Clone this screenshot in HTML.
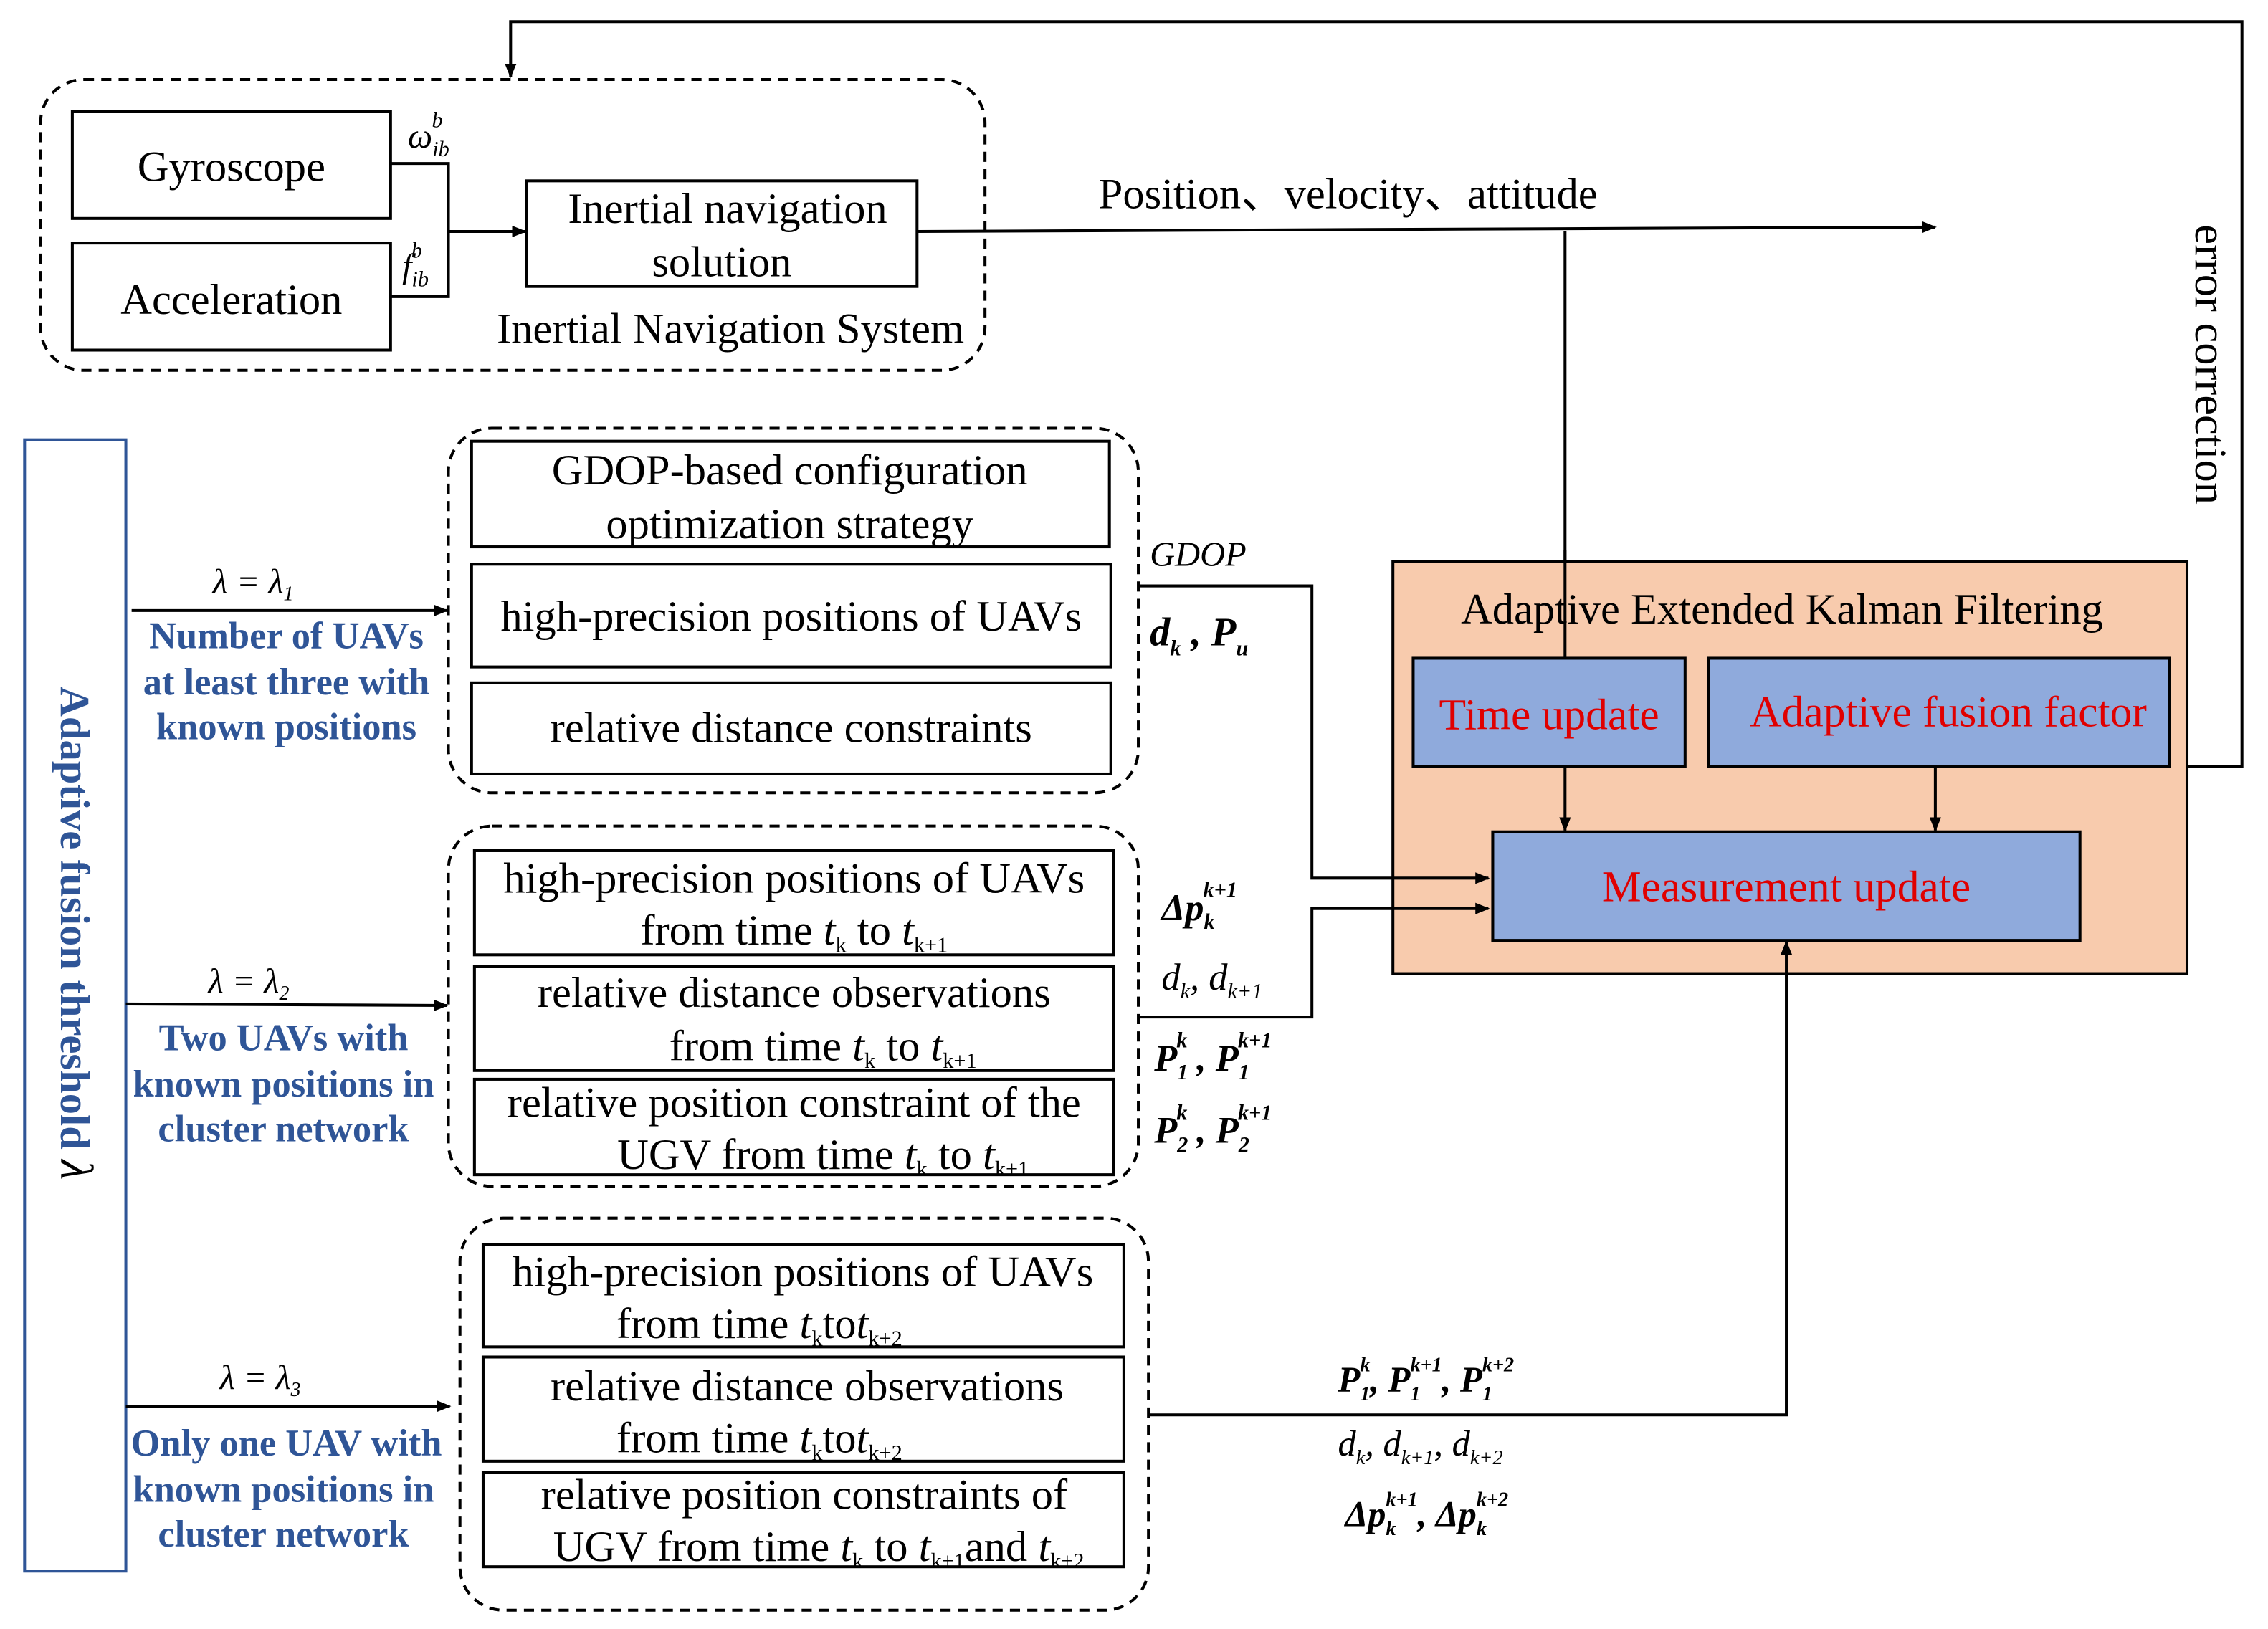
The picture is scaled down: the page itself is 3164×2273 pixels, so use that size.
<!DOCTYPE html>
<html><head><meta charset="utf-8"><style>
html,body{margin:0;padding:0;background:#fff;}
svg{display:block;}
text{font-family:"Liberation Serif",serif;}
.b{fill:#fff;stroke:#000;stroke-width:2;}
.d{fill:none;stroke:#000;stroke-width:2;stroke-dasharray:7,5;}
.l{fill:none;stroke:#000;stroke-width:2;}
.t{font-size:30px;text-anchor:middle;}
.bl{font-size:26px;font-weight:bold;fill:#2f5597;text-anchor:middle;}
.r{font-size:30.5px;fill:#e00000;text-anchor:middle;}
.i{font-style:italic;font-size:24px;}
</style></head><body>
<svg width="3164" height="2273" viewBox="0 0 1568 1126" preserveAspectRatio="none" xmlns="http://www.w3.org/2000/svg">
<defs><marker id="a" markerWidth="10" markerHeight="8" refX="9" refY="4" orient="auto" markerUnits="userSpaceOnUse"><path d="M0,0 L10,4 L0,8 z" fill="#000"/></marker></defs>

<polyline class="l" points="1512,530 1550,530 1550,15 353,15 353,53" marker-end="url(#a)"/>
<text x="1518" y="252" class="t" transform="rotate(90 1518 252)" style="font-size:31px">error correction</text>

<rect class="d" x="28" y="55" width="653" height="201" rx="30"/>
<rect class="b" x="50" y="77" width="220" height="74"/>
<text x="160" y="125" class="t">Gyroscope</text>
<rect class="b" x="50" y="168" width="220" height="74"/>
<text x="160" y="217" class="t">Acceleration</text>
<polyline class="l" points="270,113 310,113 310,205 270,205"/>
<line class="l" x1="310" y1="160" x2="363" y2="160" marker-end="url(#a)"/>
<text x="282" y="102" class="i">ω<tspan font-size="15" dy="6">ib</tspan><tspan font-size="15" dx="-12" dy="-20">b</tspan></text>
<text x="278" y="192" class="i">f<tspan font-size="15" dy="6">ib</tspan><tspan font-size="15" dx="-12" dy="-20">b</tspan></text>
<rect class="b" x="364" y="125" width="270" height="73"/>
<text x="503" y="154" class="t">Inertial navigation</text>
<text x="499" y="191" class="t">solution</text>
<text x="505" y="237" class="t">Inertial Navigation System</text>
<line class="l" x1="634" y1="160" x2="1338" y2="157" marker-end="url(#a)"/>
<text x="932" y="144" class="t">Position、velocity、attitude</text>
<line class="l" x1="1082" y1="160" x2="1082" y2="455" marker-end="url(#a)"/>

<rect x="17" y="304" width="70" height="782" fill="#fff" stroke="#2f5597" stroke-width="2"/>
<text x="42" y="645" transform="rotate(90 42 645)" style="font-size:29px;font-weight:bold;fill:#2f5597;text-anchor:middle">Adaptive fusion threshold <tspan font-style="italic" fill="#000" font-weight="normal" font-size="32">λ</tspan></text>

<rect class="d" x="310" y="296" width="477" height="252" rx="30"/>
<rect class="b" x="326" y="305" width="441" height="73"/>
<text x="546" y="335" class="t">GDOP-based configuration</text>
<text x="546" y="372" class="t">optimization strategy</text>
<rect class="b" x="326" y="390" width="442" height="71"/>
<text x="547" y="436" class="t">high-precision positions of UAVs</text>
<rect class="b" x="326" y="472" width="442" height="63"/>
<text x="547" y="513" class="t">relative distance constraints</text>
<line class="l" x1="91" y1="422" x2="309" y2="422" marker-end="url(#a)"/>
<text x="175" y="410" class="i" text-anchor="middle" style="font-size:24px">λ = λ<tspan font-size="14" dy="5">1</tspan></text>
<text x="198" y="448" class="bl">Number of UAVs</text>
<text x="198" y="480" class="bl">at least three with</text>
<text x="198" y="511" class="bl">known positions</text>

<rect class="d" x="310" y="571" width="477" height="249" rx="30"/>
<rect class="b" x="328" y="588" width="442" height="72"/>
<text x="549" y="617" class="t">high-precision positions of UAVs</text>
<text x="549" y="653" class="t">from time <tspan font-style="italic">t</tspan><tspan font-size="15" dy="5">k</tspan><tspan dy="-5"> to </tspan><tspan font-style="italic">t</tspan><tspan font-size="15" dy="5">k+1</tspan></text>
<rect class="b" x="328" y="668" width="442" height="72"/>
<text x="549" y="696" class="t">relative distance observations</text>
<text x="569" y="733" class="t">from time <tspan font-style="italic">t</tspan><tspan font-size="15" dy="5">k</tspan><tspan dy="-5"> to </tspan><tspan font-style="italic">t</tspan><tspan font-size="15" dy="5">k+1</tspan></text>
<rect class="b" x="328" y="746" width="442" height="66"/>
<text x="549" y="772" class="t">relative position constraint of the</text>
<text x="569" y="808" class="t">UGV from time <tspan font-style="italic">t</tspan><tspan font-size="15" dy="5">k</tspan><tspan dy="-5"> to </tspan><tspan font-style="italic">t</tspan><tspan font-size="15" dy="5">k+1</tspan></text>
<line class="l" x1="87" y1="694" x2="309" y2="695" marker-end="url(#a)"/>
<text x="172" y="686" class="i" text-anchor="middle">λ = λ<tspan font-size="14" dy="5">2</tspan></text>
<text x="196" y="726" class="bl">Two UAVs with</text>
<text x="196" y="758" class="bl">known positions in</text>
<text x="196" y="789" class="bl">cluster  network</text>

<rect class="d" x="318" y="842" width="476" height="271" rx="30"/>
<rect class="b" x="334" y="860" width="443" height="71"/>
<text x="555" y="889" class="t">high-precision positions of UAVs</text>
<text x="525" y="925" class="t">from time <tspan font-style="italic">t</tspan><tspan font-size="15" dy="5">k</tspan><tspan dy="-5">to</tspan><tspan font-style="italic">t</tspan><tspan font-size="15" dy="5">k+2</tspan></text>
<rect class="b" x="334" y="938" width="443" height="72"/>
<text x="558" y="968" class="t">relative distance observations</text>
<text x="525" y="1004" class="t">from time <tspan font-style="italic">t</tspan><tspan font-size="15" dy="5">k</tspan><tspan dy="-5">to</tspan><tspan font-style="italic">t</tspan><tspan font-size="15" dy="5">k+2</tspan></text>
<rect class="b" x="334" y="1018" width="443" height="65"/>
<text x="556" y="1043" class="t">relative position constraints of</text>
<text x="566" y="1079" class="t">UGV from time <tspan font-style="italic">t</tspan><tspan font-size="15" dy="5">k</tspan><tspan dy="-5"> to </tspan><tspan font-style="italic">t</tspan><tspan font-size="15" dy="5">k+1</tspan><tspan dy="-5">and </tspan><tspan font-style="italic">t</tspan><tspan font-size="15" dy="5">k+2</tspan></text>
<line class="l" x1="87" y1="972" x2="311" y2="972" marker-end="url(#a)"/>
<text x="180" y="960" class="i" text-anchor="middle">λ = λ<tspan font-size="14" dy="5">3</tspan></text>
<text x="198" y="1006" class="bl">Only one UAV with</text>
<text x="196" y="1038" class="bl">known positions in</text>
<text x="196" y="1069" class="bl">cluster  network</text>

<rect x="963" y="388" width="549" height="285" fill="#f8cbad" stroke="#000" stroke-width="2"/>
<text x="1232" y="431" class="t">Adaptive Extended Kalman Filtering</text>
<rect x="977" y="455" width="188" height="75" fill="#8faadc" stroke="#000" stroke-width="2"/>
<text x="1071" y="504" class="r">Time update</text>
<rect x="1181" y="455" width="319" height="75" fill="#8faadc" stroke="#000" stroke-width="2"/>
<text x="1347" y="502" class="r">Adaptive fusion factor</text>
<rect x="1032" y="575" width="406" height="75" fill="#8faadc" stroke="#000" stroke-width="2"/>
<text x="1235" y="623" class="r">Measurement  update</text>
<line class="l" x1="1082" y1="530" x2="1082" y2="574" marker-end="url(#a)"/>
<line class="l" x1="1338" y1="530" x2="1338" y2="574" marker-end="url(#a)"/>
<line class="l" x1="1082" y1="380" x2="1082" y2="455"/>

<polyline class="l" points="787,405 907,405 907,607 1029,607" marker-end="url(#a)"/>
<polyline class="l" points="787,703 907,703 907,628 1029,628" marker-end="url(#a)"/>
<polyline class="l" points="794,978 1235,978 1235,651" marker-end="url(#a)"/>

<text x="795" y="391" class="i">GDOP</text>
<text x="795" y="446" style="font-size:28px;font-weight:bold;font-style:italic">d<tspan font-size="15" dy="7">k</tspan><tspan dy="-7"> , P</tspan><tspan font-size="15" dy="7">u</tspan></text>
<text x="803" y="636" style="font-size:26px;font-weight:bold;font-style:italic">Δp<tspan font-size="15" dy="6">k</tspan><tspan font-size="15" dx="-8" dy="-22">k+1</tspan></text>
<text x="803" y="684" class="i" style="font-size:26px">d<tspan font-size="15" dy="6">k</tspan><tspan dy="-6">, d</tspan><tspan font-size="15" dy="6">k+1</tspan></text>
<text x="798" y="740" style="font-size:26px;font-weight:bold;font-style:italic">P<tspan font-size="15" dy="6">1</tspan><tspan font-size="15" dx="-8" dy="-22">k</tspan><tspan dy="16"> , P</tspan><tspan font-size="15" dy="6">1</tspan><tspan font-size="15" dx="-8" dy="-22">k+1</tspan></text>
<text x="798" y="790" style="font-size:26px;font-weight:bold;font-style:italic">P<tspan font-size="15" dy="6">2</tspan><tspan font-size="15" dx="-8" dy="-22">k</tspan><tspan dy="16"> , P</tspan><tspan font-size="15" dy="6">2</tspan><tspan font-size="15" dx="-8" dy="-22">k+1</tspan></text>
<text x="925" y="962" style="font-size:25px;font-weight:bold;font-style:italic">P<tspan font-size="14" dy="6">1</tspan><tspan font-size="14" dx="-7" dy="-20">k</tspan><tspan dy="14">, P</tspan><tspan font-size="14" dy="6">1</tspan><tspan font-size="14" dx="-7" dy="-20">k+1</tspan><tspan dy="14">, P</tspan><tspan font-size="14" dy="6">1</tspan><tspan font-size="14" dx="-7" dy="-20">k+2</tspan></text>
<text x="925" y="1006" class="i" style="font-size:25px">d<tspan font-size="14" dy="6">k</tspan><tspan dy="-6">, d</tspan><tspan font-size="14" dy="6">k+1</tspan><tspan dy="-6">, d</tspan><tspan font-size="14" dy="6">k+2</tspan></text>
<text x="930" y="1055" style="font-size:25px;font-weight:bold;font-style:italic">Δp<tspan font-size="14" dy="6">k</tspan><tspan font-size="14" dx="-7" dy="-20">k+1</tspan><tspan dy="14">, Δp</tspan><tspan font-size="14" dy="6">k</tspan><tspan font-size="14" dx="-7" dy="-20">k+2</tspan></text>
</svg>
</body></html>
